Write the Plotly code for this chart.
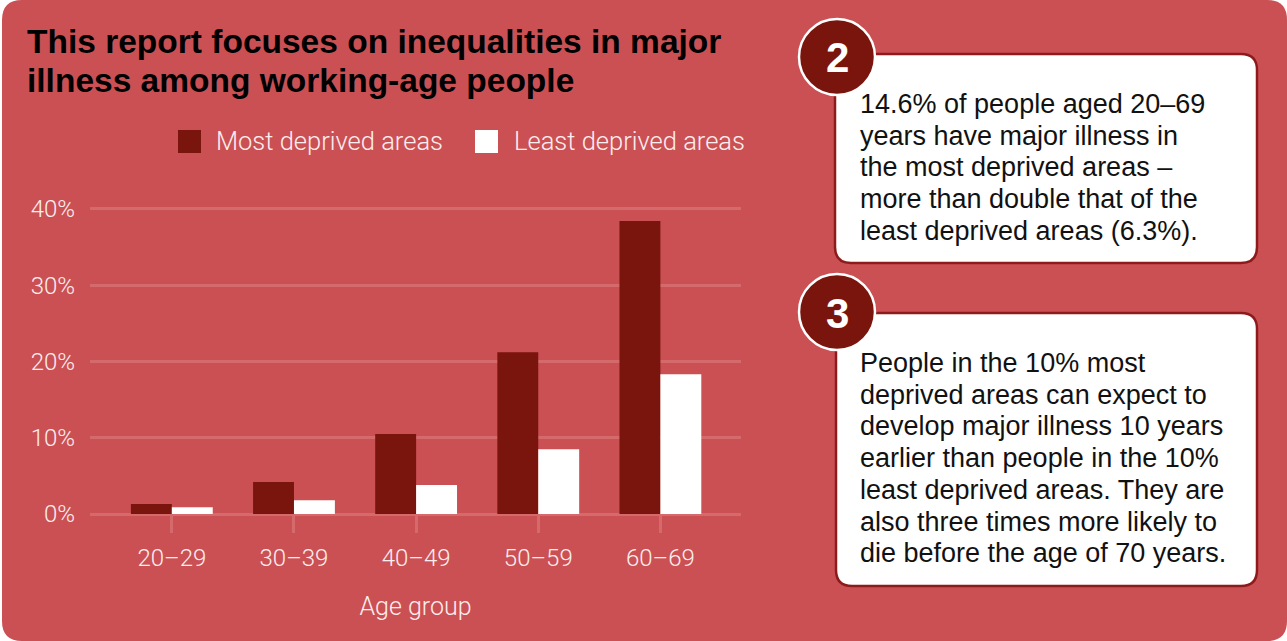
import plotly.graph_objects as go

# --- data -------------------------------------------------------------
age_groups = ["20–29", "30–39", "40–49", "50–59", "60–69"]
most_deprived = [1.3, 4.2, 10.5, 21.2, 38.4]
least_deprived = [0.9, 1.8, 3.8, 8.5, 18.3]
series_names = ["Most deprived areas", "Least deprived areas"]
y_ticks = [0, 10, 20, 30, 40]
y_tick_labels = ["0%", "10%", "20%", "30%", "40%"]

title_lines = ["This report focuses on inequalities in major",
               "illness among working-age people"]
box2_lines = ["14.6% of people aged 20–69",
              "years have major illness in",
              "the most deprived areas –",
              "more than double that of the",
              "least deprived areas (6.3%)."]
box3_lines = ["People in the 10% most",
              "deprived areas can expect to",
              "develop major illness 10 years",
              "earlier than people in the 10%",
              "least deprived areas. They are",
              "also three times more likely to",
              "die before the age of 70 years."]

# --- styling ----------------------------------------------------------
W, H = 1287, 641
BG = "#CB5054"
DARK = "#7A150D"
GRID = "#D56A6D"
LIGHT_TXT = "#FCEEEE"
BORDER = "#8E1B1B"
BODY_FONT = "Liberation Sans, Arial, sans-serif"
LIGHT_FONT = "Roboto, Liberation Sans, sans-serif"


def px(x):
    return x / W


def py(y):
    return 1 - y / H


def rounded_rect(x0, y0, x1, y1, r):
    """SVG path (paper coords) for a rounded rectangle given in pixels."""
    pts = [
        f"M {px(x0 + r)},{py(y0)}",
        f"L {px(x1 - r)},{py(y0)}",
        f"Q {px(x1)},{py(y0)} {px(x1)},{py(y0 + r)}",
        f"L {px(x1)},{py(y1 - r)}",
        f"Q {px(x1)},{py(y1)} {px(x1 - r)},{py(y1)}",
        f"L {px(x0 + r)},{py(y1)}",
        f"Q {px(x0)},{py(y1)} {px(x0)},{py(y1 - r)}",
        f"L {px(x0)},{py(y0 + r)}",
        f"Q {px(x0)},{py(y0)} {px(x0 + r)},{py(y0)}",
        "Z",
    ]
    return " ".join(pts)


def text_lines(lines, x, y_first, step, font):
    """One left-aligned annotation per line, centred on y_first + i*step."""
    return [dict(text=t, x=px(x), y=py(y_first + i * step), xref="paper", yref="paper",
                 xanchor="left", yanchor="middle", align="left", showarrow=False,
                 font=font) for i, t in enumerate(lines)]


fig = go.Figure()
fig.add_trace(go.Bar(x=age_groups, y=most_deprived, name=series_names[0],
                     marker=dict(color=DARK, line=dict(width=0)), hoverinfo="skip"))
fig.add_trace(go.Bar(x=age_groups, y=least_deprived, name=series_names[1],
                     marker=dict(color="#FFFFFF", line=dict(width=0)), hoverinfo="skip"))

shapes = []
# red card behind everything
shapes.append(dict(type="path", path=rounded_rect(2, 0, W, H, 20), xref="paper", yref="paper",
                   fillcolor=BG, line=dict(width=0), layer="below"))

# legend keys
legend_keys = [(178, DARK), (475, "#FFFFFF")]
for lx, col in legend_keys:
    shapes.append(dict(type="rect", xref="paper", yref="paper",
                       x0=px(lx), x1=px(lx + 23), y0=py(153), y1=py(130),
                       fillcolor=col, line=dict(width=0)))

# callout boxes with numbered circles
boxes = [(835, 54, 1257, 263, "2", 57), (836, 313, 1257, 586, "3", 312)]
for x0, y0, x1, y1, num, cy in boxes:
    shapes.append(dict(type="path", path=rounded_rect(x0, y0, x1, y1, 16), xref="paper", yref="paper",
                       fillcolor="#FFFFFF", line=dict(color=BORDER, width=2.5)))
    r = 38
    shapes.append(dict(type="circle", xref="paper", yref="paper",
                       x0=px(837 - r), x1=px(837 + r), y0=py(cy + r), y1=py(cy - r),
                       fillcolor=DARK, line=dict(color="#FFFFFF", width=2.5)))

title_font = dict(family=BODY_FONT, size=33.5, color="#000000", weight="bold")
legend_font = dict(family=LIGHT_FONT, size=25.5, color=LIGHT_TXT, weight=300)
body_font = dict(family=BODY_FONT, size=27, color="#111111")

annotations = []
annotations += text_lines(title_lines, 25, 42, 38, title_font)
annotations.append(dict(text=series_names[0], x=px(214), y=py(141), xref="paper", yref="paper",
                        xanchor="left", yanchor="middle", showarrow=False, font=legend_font))
annotations.append(dict(text=series_names[1], x=px(512), y=py(141), xref="paper", yref="paper",
                        xanchor="left", yanchor="middle", showarrow=False, font=legend_font))
annotations += text_lines(box2_lines, 858, 104, 31.7, body_font)
annotations += text_lines(box3_lines, 858, 363, 31.7, body_font)
for x0, y0, x1, y1, num, cy in boxes:
    annotations.append(dict(text=num, x=px(837), y=py(cy + 1), xref="paper", yref="paper",
                            xanchor="center", yanchor="middle", showarrow=False,
                            font=dict(family=BODY_FONT, size=42, color="#FFFFFF", weight="bold")))

y_bottom_px = 514
px_per_unit = 7.63
y_max = 42
y_top_px = y_bottom_px - y_max * px_per_unit

tick_font = dict(family=LIGHT_FONT, size=24, color=LIGHT_TXT, weight=300)

fig.update_layout(
    width=W, height=H,
    autosize=False,
    margin=dict(l=0, r=0, t=0, b=0, pad=0, autoexpand=False),
    paper_bgcolor="#FFFFFF",
    plot_bgcolor="rgba(0,0,0,0)",
    showlegend=False,
    barmode="group",
    bargap=0.33,
    bargroupgap=0,
    shapes=shapes,
    annotations=annotations,
    xaxis=dict(
        domain=[px(90), px(741)],
        range=[-0.67, 4.66],
        automargin=False,
        showgrid=False, zeroline=False, showline=False,
        ticks="outside", ticklen=18, tickwidth=3, tickcolor=GRID,
        tickfont=tick_font,
        ticklabelstandoff=4,
        title=dict(text="Age group", standoff=26,
                   font=dict(family=LIGHT_FONT, size=25, color=LIGHT_TXT, weight=300)),
        fixedrange=True,
    ),
    yaxis=dict(
        domain=[py(y_bottom_px), py(y_top_px)],
        range=[0, y_max],
        automargin=False,
        tickvals=y_ticks, ticktext=y_tick_labels,
        showgrid=True, gridcolor=GRID, gridwidth=3,
        zeroline=True, zerolinecolor=GRID, zerolinewidth=3,
        showline=False, ticks="",
        tickfont=tick_font,
        ticklabelstandoff=14,
        fixedrange=True,
    ),
)

fig.write_html("out.html", config={"displayModeBar": False, "responsive": False})
